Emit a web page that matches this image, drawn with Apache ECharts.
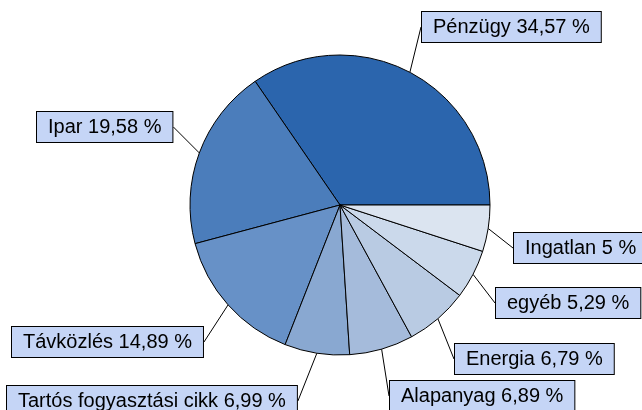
<!DOCTYPE html>
<html><head><meta charset="utf-8">
<script src="https://cdn.jsdelivr.net/npm/echarts@6/dist/echarts.min.js"></script>
<style>html,body{margin:0;padding:0;background:#fff}#c{width:642px;height:410px}</style>
</head><body><div id="c"></div>
<script>
const categories = ['Pénzügy','Ipar','Távközlés','Tartós fogyasztási cikk','Alapanyag','Energia','egyéb','Ingatlan'];
const values = [34.57,19.58,14.89,6.99,6.89,6.79,5.29,5];
const colors = ['#2b65ad','#4b7dbb','#6791c7','#89a8d1','#a5bbdb','#b9cbe3','#cbd9eb','#dbe4f0'];
const labelBoxes = [[422,12],[37,112],[12,327],[7,386],[390,381],[455,344],[496,288],[514,233]];

const chart = echarts.init(document.getElementById('c'));
chart.setOption({
  animation:false,
  series:[{
    type:'pie',
    center:[340,205],
    radius:150,
    startAngle:0,
    clockwise:false,
    avoidLabelOverlap:false,
    data: categories.map((n,i)=>({name:n,value:values[i],itemStyle:{color:colors[i]}})),
    itemStyle:{borderColor:'#000',borderWidth:1},
    emphasis:{disabled:true},
    label:{
      show:true,
      formatter:p=>p.name+' '+String(p.value).replace('.',',')+' %',
      fontFamily:'Liberation Sans',
      fontSize:20,
      lineHeight:20,
      color:'#000',
      backgroundColor:'#c5d5f6',
      borderColor:'#000',
      borderWidth:1,
      padding:[5,11]
    },
    labelLine:{show:true,length:8,length2:0,lineStyle:{color:'#000',width:1}},
    labelLayout:function(p){
      const b = labelBoxes[p.dataIndex];
      return {x:b[0],y:b[1],align:'left',verticalAlign:'top'};
    }
  }]
});
</script></body></html>
